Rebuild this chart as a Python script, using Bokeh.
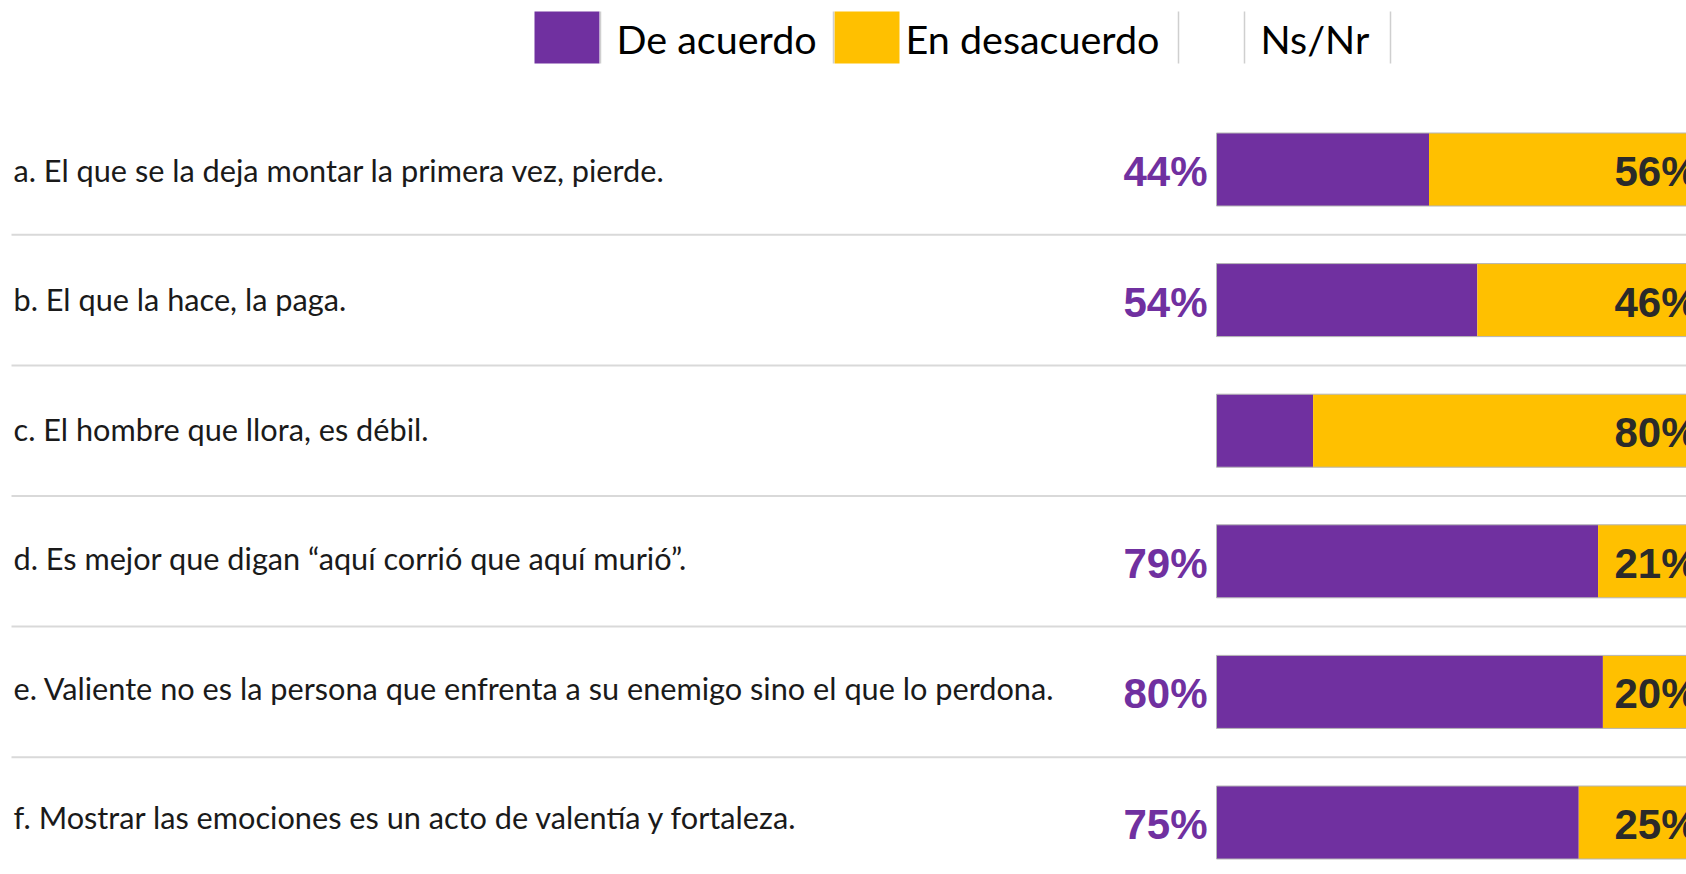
from bokeh.plotting import figure
from bokeh.models import Range1d, ColumnDataSource
from bokeh.core.properties import value
from bokeh.embed import file_html
from bokeh.resources import INLINE

# ---- data ----
questions = [
    "a. El que se la deja montar la primera vez, pierde.",
    "b. El que la hace, la paga.",
    "c. El hombre que llora, es débil.",
    "d. Es mejor que digan \u201caquí corrió que aquí murió\u201d.",
    "e. Valiente no es la persona que enfrenta a su enemigo sino el que lo perdona.",
    "f. Mostrar las emociones es un acto de valentía y fortaleza.",
]
de_acuerdo = [44, 54, 20, 79, 80, 75]
en_desacuerdo = [56, 46, 80, 21, 20, 25]
show_acuerdo_label = [True, True, False, True, True, True]
legend_labels = ["De acuerdo", "En desacuerdo", "Ns/Nr"]

PURPLE = "#7030A0"
YELLOW = "#FFC000"

# ---- layout (pixel helpers) ----
W, H = 1686, 866
BAR0 = 1216.0        # canvas px where 0% sits
PXPCT = 4.83         # px per percentage point
ROW0 = 169.0         # canvas px of first row centre
ROWH = 130.6         # px per row
TXT0, TXTH = 170.0, 129.4   # question text rows sit on a slightly tighter pitch

def X(px):
    return (px - BAR0) / PXPCT

def Y(py):
    return (py - ROW0) / ROWH

p = figure(width=W, height=H, output_backend="svg", toolbar_location=None,
           x_range=Range1d(X(0), X(W)), y_range=Range1d(Y(H), Y(0)),
           min_border=0)
p.axis.visible = False
p.grid.visible = False
p.outline_line_color = None
p.background_fill_color = "white"
p.border_fill_color = "white"

n = len(questions)
rows = list(range(n))
src = ColumnDataSource(dict(
    y=rows,
    ty=[Y(TXT0 + TXTH * i) for i in rows],
    q=questions,
    agree=de_acuerdo,
    disagree=en_desacuerdo,
    total=[a + d for a, d in zip(de_acuerdo, en_desacuerdo)],
    agree_lbl=[f"{a}%" if s else "" for a, s in zip(de_acuerdo, show_acuerdo_label)],
    dis_lbl=[f"{d}%" for d in en_desacuerdo],
))

BH = 73 / ROWH
p.hbar(y="y", left=0, right="agree", height=BH, source=src,
       fill_color=PURPLE, line_color=None)
p.hbar(y="y", left="agree", right="total", height=BH, source=src,
       fill_color=YELLOW, line_color=None)
p.hbar(y="y", left=0, right="total", height=BH, source=src,
       fill_alpha=0, line_color="#b5b5b5", line_width=1)

# separators
sep_y = [i + 0.5 for i in range(n - 1)]
p.segment(x0=[X(11)] * len(sep_y), x1=[X(W)] * len(sep_y), y0=sep_y, y1=sep_y,
          line_color="#d9d9d9", line_width=2)

# question text
p.text(x=X(13), y="ty", text="q", source=src, text_font=value("Lato"),
       text_font_size="30.7px", text_color="#1a1a1a", text_baseline="middle")

# value labels
p.text(x=X(1207), y="y", text="agree_lbl", source=src,
       text_font=value("Liberation Sans"), text_font_style="bold",
       text_font_size="42px", text_color=PURPLE, text_align="right",
       text_baseline="middle", y_offset=2)
p.text(x="total", y="y", text="dis_lbl", source=src,
       text_font=value("Liberation Sans"), text_font_style="bold",
       text_font_size="42px", text_color="#2a2a2a", text_align="right",
       text_baseline="middle", x_offset=-1, y_offset=2)

# legend
sq_top, sq_bot = Y(11), Y(63)
p.quad(left=[X(534)], right=[X(599)], top=[sq_top], bottom=[sq_bot],
       fill_color=PURPLE, line_color=None)
p.quad(left=[X(834)], right=[X(899)], top=[sq_top], bottom=[sq_bot],
       fill_color=YELLOW, line_color=None)
vx = [X(600), X(833), X(1178), X(1244), X(1390)]
p.segment(x0=vx, x1=vx, y0=[sq_top] * len(vx), y1=[sq_bot] * len(vx),
          line_color="#cfcfcf", line_width=1.5)
p.text(x=[X(616), X(905), X(1260)], y=[Y(38)] * 3, text=legend_labels,
       text_font=value("Lato"), text_font_size="39.5px", text_color="black",
       text_baseline="middle")

open("out.html", "w").write(file_html(p, INLINE))
